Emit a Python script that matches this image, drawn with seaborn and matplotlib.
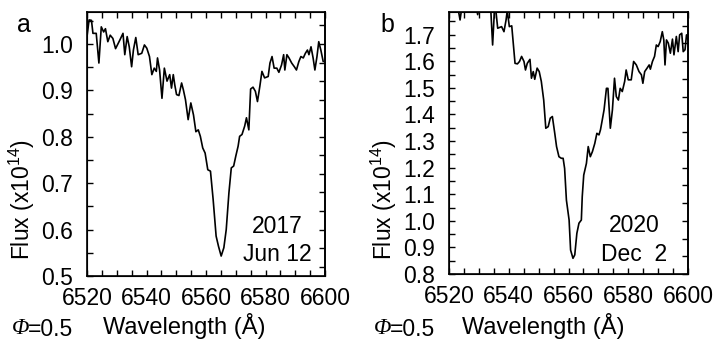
import numpy as np
import pandas as pd
import matplotlib
matplotlib.use("Agg")
import matplotlib.pyplot as plt
from matplotlib.ticker import MultipleLocator, FormatStrFormatter
import seaborn as sns

# panel a: 2017 Jun 12
wave_a = [6520.0, 6520.7, 6521.5, 6522.0, 6523.1, 6524.0, 6524.8, 6525.6, 6526.2, 6527.0,
          6527.8, 6528.7, 6529.6, 6531.0, 6532.1, 6532.7, 6533.5, 6534.2, 6535.0, 6535.6,
          6536.4, 6537.2, 6538.4, 6539.3, 6540.1, 6541.0, 6541.8, 6542.6, 6543.3, 6543.7,
          6544.4, 6545.2, 6546.0, 6546.9, 6547.8, 6548.4, 6549.0, 6549.5, 6550.1, 6550.9,
          6551.8, 6552.4, 6553.1, 6554.0, 6554.9, 6555.8, 6556.6, 6557.4, 6558.1, 6558.9,
          6559.7, 6560.6, 6561.5, 6562.4, 6563.4, 6564.2, 6565.1, 6566.0, 6566.8, 6567.7,
          6568.5, 6569.3, 6570.0, 6570.8, 6571.3, 6572.1, 6573.0, 6573.6, 6574.4, 6575.0,
          6575.8, 6576.6, 6577.3, 6578.1, 6578.8, 6579.7, 6580.9, 6581.5, 6582.2, 6582.9,
          6583.8, 6584.5, 6585.4, 6586.1, 6586.5, 6587.2, 6587.9, 6588.8, 6589.7, 6590.4,
          6591.2, 6591.9, 6592.7, 6593.4, 6594.1, 6594.6, 6595.3, 6596.0, 6596.6, 6597.3,
          6597.9, 6598.6, 6599.4]
flux_a = [1.016, 1.052, 1.051, 1.023, 1.023, 0.959, 1.037, 1.026, 1.033, 1.005,
          1.019, 1.012, 0.990, 1.008, 1.023, 0.977, 1.016, 0.994, 0.951, 0.987,
          1.014, 0.977, 0.980, 0.998, 0.991, 0.973, 0.934, 0.948, 0.941, 0.970,
          0.944, 0.883, 0.948, 0.920, 0.934, 0.905, 0.934, 0.912, 0.891, 0.889,
          0.916, 0.901, 0.880, 0.837, 0.873, 0.847, 0.811, 0.815, 0.801, 0.776,
          0.765, 0.729, 0.726, 0.665, 0.586, 0.564, 0.543, 0.561, 0.600, 0.679,
          0.733, 0.737, 0.758, 0.780, 0.801, 0.805, 0.823, 0.841, 0.815, 0.903,
          0.907, 0.898, 0.876, 0.909, 0.941, 0.927, 0.930, 0.959, 0.973, 0.948,
          0.948, 0.939, 0.955, 0.977, 0.944, 0.977, 0.970, 0.959, 0.951, 0.944,
          0.962, 0.973, 0.970, 0.980, 0.987, 0.977, 0.994, 0.970, 0.944, 0.973,
          1.005, 0.987, 0.962]

# panel b: 2020 Dec 2
wave_b = [6520.0, 6521.0, 6522.0, 6523.0, 6523.7, 6524.4, 6525.5, 6527.0, 6528.5, 6529.6,
          6530.3, 6531.5, 6532.5, 6533.5, 6534.0, 6534.6, 6535.2, 6535.6, 6536.3, 6537.6,
          6538.4, 6539.1, 6539.5, 6540.2, 6541.0, 6542.1, 6542.9, 6543.6, 6544.3, 6545.1,
          6545.6, 6546.2, 6547.1, 6547.6, 6548.2, 6548.7, 6549.5, 6550.2, 6550.9, 6551.7,
          6552.4, 6553.2, 6553.9, 6554.6, 6555.4, 6556.0, 6556.8, 6557.6, 6558.2, 6558.7,
          6559.3, 6560.2, 6560.7, 6561.5, 6562.1, 6562.8, 6563.5, 6564.3, 6564.6, 6565.1,
          6566.0, 6566.6, 6567.3, 6568.0, 6568.8, 6569.5, 6570.2, 6570.7, 6571.3, 6571.9,
          6572.7, 6573.2, 6574.0, 6574.7, 6575.4, 6576.0, 6576.7, 6577.3, 6578.0, 6578.8,
          6579.3, 6580.0, 6581.0, 6581.8, 6582.7, 6583.6, 6584.4, 6584.9, 6585.5, 6586.3,
          6587.0, 6587.4, 6588.1, 6588.8, 6589.4, 6590.0, 6590.7, 6591.4, 6591.9, 6592.3,
          6592.8, 6593.4, 6594.1, 6594.8, 6595.3, 6596.1, 6596.7, 6597.2, 6597.9, 6598.4,
          6599.0, 6599.5, 6600.0]
flux_b = [1.83, 1.86, 1.82, 1.80, 1.755, 1.81, 1.85, 1.83, 1.84, 1.775,
          1.82, 1.85, 1.83, 1.80, 1.79, 1.661, 1.79, 1.80, 1.724, 1.730,
          1.711, 1.755, 1.79, 1.730, 1.733, 1.592, 1.590, 1.599, 1.618, 1.599,
          1.567, 1.592, 1.607, 1.536, 1.561, 1.532, 1.574, 1.561, 1.524, 1.454,
          1.348, 1.354, 1.386, 1.392, 1.329, 1.279, 1.241, 1.235, 1.235, 1.197,
          1.078, 1.003, 0.890, 0.859, 0.872, 0.953, 0.991, 1.003, 1.091, 1.172,
          1.216, 1.279, 1.241, 1.260, 1.291, 1.329, 1.323, 1.342, 1.379, 1.417,
          1.498, 1.498, 1.348, 1.417, 1.536, 1.467, 1.454, 1.498, 1.486, 1.524,
          1.567, 1.530, 1.530, 1.599, 1.586, 1.561, 1.549, 1.517, 1.561, 1.574,
          1.586, 1.570, 1.599, 1.618, 1.661, 1.655, 1.674, 1.711, 1.680, 1.586,
          1.680, 1.668, 1.630, 1.683, 1.624, 1.693, 1.636, 1.699, 1.705, 1.636,
          1.643, 1.699, 1.68]

sns.set_style("ticks")
plt.rcParams['font.family'] = ['Liberation Sans', 'DejaVu Sans']
plt.rcParams['mathtext.fontset'] = 'custom'
plt.rcParams['mathtext.rm'] = 'Liberation Sans'
plt.rcParams['mathtext.it'] = 'Liberation Sans:italic'
for key in ['text.color', 'axes.edgecolor', 'axes.labelcolor', 'xtick.color', 'ytick.color']:
    plt.rcParams[key] = 'black'

FS = 16.5

fig = plt.figure(figsize=(7.22, 3.44), dpi=100)
ax_a = fig.add_axes([87/722, 68/344, 238/722, 264/344])
ax_b = fig.add_axes([449/722, 70/344, 239/722, 262/344])

panels = [
    (ax_a, wave_a, flux_a, (0.5, 1.069), 0.04, ("2017", "Jun 12"), (0.80, 0.186, 0.08), 22),
    (ax_b, wave_b, flux_b, (0.8, 1.785), 1/15, ("2020", "Dec  2"), (0.774, 0.187, 0.073), 384),
]

for ax, w, f, ylim, right_step, date, date_pos, ylab_x in panels:
    df = pd.DataFrame({"wave": w, "flux": f})
    sns.lineplot(data=df, x="wave", y="flux", ax=ax, color="black", lw=1.2)
    ax.set_xlim(6520, 6600)
    ax.set_ylim(*ylim)
    ax.set_xlabel("")
    ax.set_ylabel("")
    ax.xaxis.set_major_locator(MultipleLocator(20))
    ax.xaxis.set_minor_locator(MultipleLocator(5))
    ax.yaxis.set_major_locator(MultipleLocator(0.1))
    ax.yaxis.set_minor_locator(MultipleLocator(0.05))
    ax.yaxis.set_major_formatter(FormatStrFormatter("%.1f"))
    ax.tick_params(which="both", direction="in", length=4, width=1,
                   top=True, right=False, labelsize=FS)
    ax.tick_params(axis="x", which="major", pad=8)
    ax.tick_params(axis="y", which="major", pad=10)
    for s in ax.spines.values():
        s.set_linewidth(1.2)
    # right-hand ticks on their own spacing
    tw = ax.twinx()
    tw.set_ylim(*ylim)
    tw.yaxis.set_major_locator(MultipleLocator(right_step))
    tw.tick_params(direction="in", length=4, width=1, labelright=False)
    tw.spines["right"].set_linewidth(1.2)

    xd, y1, y2 = date_pos
    ax.text(xd, y1, date[0], transform=ax.transAxes, ha="center", va="center", fontsize=FS)
    ax.text(xd, y2, date[1], transform=ax.transAxes, ha="center", va="center", fontsize=FS)

    fig.text(ylab_x/722, 1 - 200/344, "Flux (x10$^{14}$)", rotation=90,
             ha="center", va="center", fontsize=FS)

fig.text(24/722, 1 - 25/344, "a", ha="center", va="center", fontsize=18)
fig.text(387/722, 1 - 25/344, "b", ha="center", va="center", fontsize=18)

for xo, xc in [(0, 184), (362, 543)]:
    fig.text((xo + 12)/722, 1 - 329/344, "Φ", family="Liberation Serif", style="italic",
             ha="left", va="center", fontsize=FS)
    fig.text((xo + 28)/722, 1 - 329/344, "=0.5", ha="left", va="center", fontsize=FS)
    fig.text(xc/722, 1 - 326/344, "Wavelength (Å)", ha="center", va="center", fontsize=17)

fig.savefig("out.png", dpi=100)
